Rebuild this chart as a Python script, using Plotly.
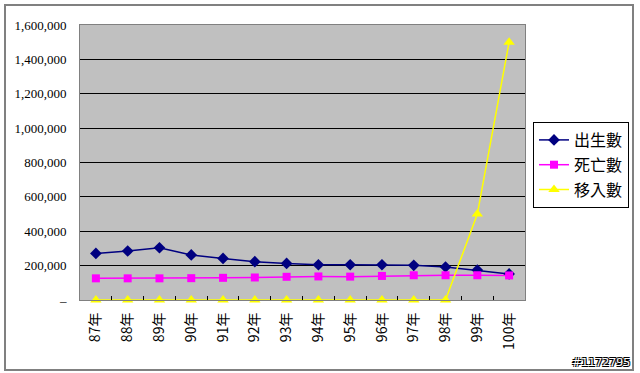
import plotly.graph_objects as go

years = ["87年", "88年", "89年", "90年", "91年", "92年", "93年", "94年", "95年", "96年", "97年", "98年", "99年", "100年"]
births = [271000, 285000, 304000, 262000, 242000, 223000, 213000, 205000, 205000, 205000, 202000, 192000, 174000, 152000]
deaths = [126000, 126000, 126000, 127000, 129000, 131000, 135000, 137000, 136000, 140000, 144000, 144000, 144000, 143000]
migrants = [0, 0, 0, 0, 0, 0, 0, 0, 0, 0, 0, 0, 500000, 1500000]
y_ticks = [0, 200000, 400000, 600000, 800000, 1000000, 1200000, 1400000, 1600000]
y_labels = ["–", "200,000", "400,000", "600,000", "800,000", "1,000,000", "1,200,000", "1,400,000", "1,600,000"]

W, H = 640, 373
L, R, T, B = 80, 525, 25, 300

def px(x):
    return (x - L) / (R - L)

def py(y):
    return (B - y) / (B - T)

fig = go.Figure()
fig.add_trace(go.Scatter(x=years, y=births, name="出生數", mode="lines+markers", legendgroup="a",
                         line=dict(color="#000080", width=1.5),
                         marker=dict(symbol="diamond", size=9, color="#000080"), cliponaxis=False))
fig.add_trace(go.Scatter(x=years, y=deaths, name="死亡數", mode="lines+markers", legendgroup="b",
                         line=dict(color="#FF00FF", width=1.5),
                         marker=dict(symbol="square", size=8, color="#FF00FF"), cliponaxis=False))
fig.add_trace(go.Scatter(x=years, y=migrants, name="移入數", mode="lines+markers", legendgroup="c",
                         line=dict(color="#FFFF00", width=1.5),
                         marker=dict(symbol="triangle-up", size=10, color="#FFFF00"), cliponaxis=False))

fig.update_layout(
    width=W, height=H,
    margin=dict(l=L, r=W - R, t=T, b=H - B, autoexpand=False),
    paper_bgcolor="white",
    plot_bgcolor="#C0C0C0",
    showlegend=True,
    legend=dict(x=px(533), y=py(122), xanchor="left", yanchor="top",
                bgcolor="white", bordercolor="#000000", borderwidth=1,
                font=dict(family="Noto Sans CJK TC", size=16, color="black"),
                itemwidth=30, tracegroupgap=1, traceorder="grouped"),
    font=dict(family="Liberation Serif", color="black"),
)
fig.update_xaxes(
    type="category", range=[-0.5, len(years) - 0.5],
    tickangle=-90, tickfont=dict(family="Noto Sans CJK TC", size=14, color="black"),
    showgrid=False, showline=True, linecolor="#808080", linewidth=1, mirror=True,
    ticks="inside", ticklen=4, tickcolor="#000000", tickson="boundaries",
    ticklabelstandoff=6,
)
fig.update_yaxes(
    range=[0, 1600000], tickvals=y_ticks, ticktext=y_labels,
    tickfont=dict(family="Liberation Serif", size=13, color="black"),
    showgrid=True, gridcolor="#000000", gridwidth=1,
    showline=True, linecolor="#808080", linewidth=1, mirror=True,
    zeroline=False, ticks="", ticklabelstandoff=10,
)
fig.add_shape(type="rect", xref="paper", yref="paper",
              x0=px(5), x1=px(633), y0=py(370), y1=py(5),
              line=dict(color="#808080", width=2), fillcolor="rgba(0,0,0,0)", layer="above")
fig.add_annotation(xref="paper", yref="paper", x=px(632), y=py(362), xanchor="right", yanchor="middle",
                   text="#1172795", showarrow=False,
                   font=dict(family="DejaVu Sans", size=11, color="white",
                             shadow="1px 1px 0 #000, -1px -1px 0 #000, 1px -1px 0 #000, -1px 1px 0 #000"))

fig.write_html("out.html", config={"displayModeBar": False},
               post_script="document.body.style.margin='0px';")
